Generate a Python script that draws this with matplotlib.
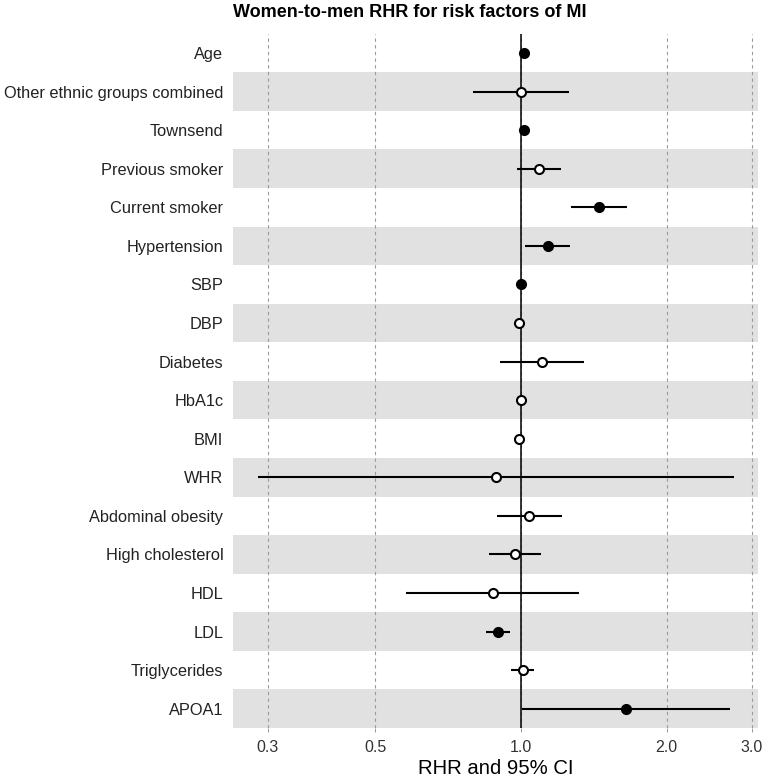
import matplotlib.pyplot as plt
import numpy as np

plt.rcParams['font.family'] = ['Liberation Sans', 'DejaVu Sans']

# risk factors, top to bottom
factors = ['Age', 'Other ethnic groups combined', 'Townsend', 'Previous smoker',
           'Current smoker', 'Hypertension', 'SBP', 'DBP', 'Diabetes', 'HbA1c',
           'BMI', 'WHR', 'Abdominal obesity', 'High cholesterol', 'HDL', 'LDL',
           'Triglycerides', 'APOA1']
rhr = [1.015, 1.0, 1.015, 1.09, 1.45, 1.135, 1.0, 0.99, 1.105, 1.0,
       0.99, 0.887, 1.04, 0.97, 0.875, 0.896, 1.01, 1.65]
lower = [1.005, 0.797, 1.005, 0.982, 1.268, 1.02, 0.995, 0.985, 0.904, 0.995,
         0.985, 0.286, 0.894, 0.858, 0.58, 0.845, 0.954, 1.005]
upper = [1.025, 1.255, 1.025, 1.211, 1.656, 1.261, 1.005, 0.995, 1.351, 1.005,
         0.995, 2.76, 1.215, 1.099, 1.318, 0.951, 1.066, 2.70]
significant = [True, False, True, False, True, True, True, False, False, False,
               False, False, False, False, False, True, False, True]
ticks = [0.3, 0.5, 1.0, 2.0, 3.0]

fig = plt.figure(figsize=(7.67, 7.81), dpi=100)
ax = fig.add_axes([233 / 767, 1 - 728 / 781, 525 / 767, (728 - 33.7) / 781])

y = np.arange(len(factors))

# grey bands on every second row
for i in y:
    if i % 2 == 1:
        ax.axhspan(i - 0.5, i + 0.5, color='#e1e1e1', lw=0, zorder=0)

for t in ticks:
    ax.axvline(t, color='#9a9a9a', lw=0.8, ls=(0, (3, 3)), zorder=1)
ax.axvline(1.0, color='black', lw=1.1, zorder=2)

ax.hlines(y, lower, upper, color='black', lw=1.5, zorder=3)
for yi, r, s in zip(y, rhr, significant):
    ax.plot(r, yi, 'o', ms=6.5, mew=1.5, mec='black',
            mfc='black' if s else 'white', zorder=4)

ax.set_xscale('log')
ax.set_xlim(0.254, 3.09)
ax.set_ylim(17.5, -0.5)
ax.set_xticks(ticks)
ax.set_xticklabels(['0.3', '0.5', '1.0', '2.0', '3.0'])
ax.xaxis.set_minor_locator(plt.NullLocator())
ax.set_yticks(y)
ax.set_yticklabels(factors)
ax.tick_params(axis='y', length=0, pad=7, labelsize=11.8, labelcolor='#222222')
ax.tick_params(axis='x', length=3, width=0.7, color='#999999', pad=5.5,
               labelsize=11.5, labelcolor='#333333')
for sp in ax.spines.values():
    sp.set_visible(False)

ax.set_xlabel('RHR and 95% CI', fontsize=14.6, labelpad=3)
fig.text(233 / 767, 1 - 17 / 781, 'Women-to-men RHR for risk factors of MI',
         fontsize=13, fontweight='bold', va='baseline', ha='left')

plt.savefig('out.png', dpi=100)
